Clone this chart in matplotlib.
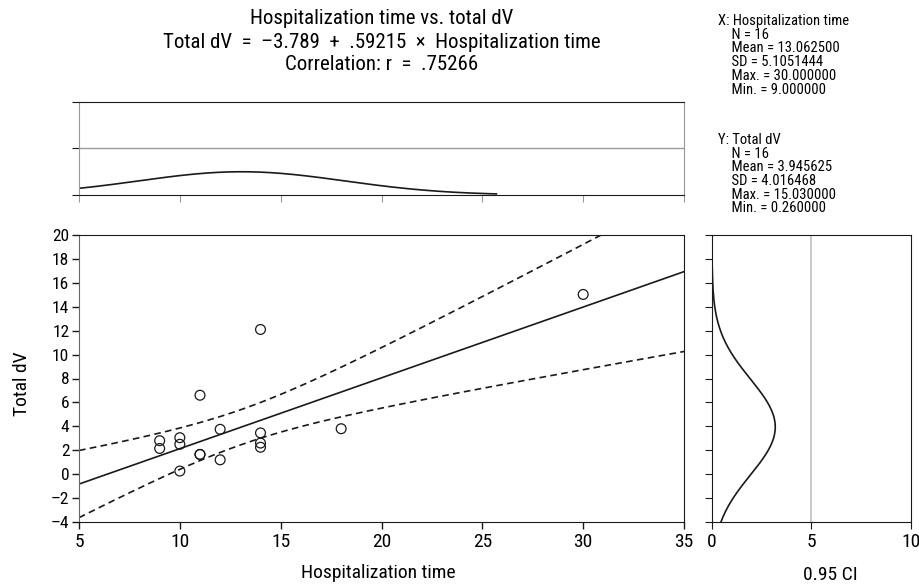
import numpy as np
import matplotlib.pyplot as plt

# 窄体无衬线字体 (按顺序找第一个已安装的)
plt.rcParams['font.family'] = ['Roboto Condensed', 'Archivo Narrow', 'PT Sans Narrow',
                               'Liberation Sans Narrow', 'Liberation Sans', 'DejaVu Sans']

# 散点数据 (Hospitalization time, Total dV)
hosp_time = [9, 9, 10, 10, 10, 11, 11, 11, 12, 12, 14, 14, 14, 14, 18, 30]
total_dv = [2.80, 2.15, 3.05, 2.50, 0.26, 6.60, 1.65, 1.65, 3.75, 1.20,
            12.10, 3.45, 2.60, 2.25, 3.80, 15.03]

# 回归与汇总统计 (图中给出的数值)
intercept = -3.789
slope = 0.59215
r_value = 0.75266
n_obs = 16
x_mean, x_sd = 13.0625, 5.1051444
y_mean, y_sd = 3.945625, 4.016468
t_crit = 2.145          # t(0.975, df=14)
density_scale = 32.0    # 边缘密度曲线的缩放
x_curve_end = 25.7
y_curve_end = 17.2

title_lines = ['Hospitalization time vs. total dV',
               'Total dV  =  \u20133.789  +  .59215  \u00d7  Hospitalization time',
               'Correlation: r  =  .75266']
x_stats = ['X: Hospitalization time', '    N = 16', '    Mean = 13.062500',
           '    SD = 5.1051444', '    Max. = 30.000000', '    Min. = 9.000000']
y_stats = ['Y: Total dV', '    N = 16', '    Mean = 3.945625',
           '    SD = 4.016468', '    Max. = 15.030000', '    Min. = 0.260000']

main_xticks = [5, 10, 15, 20, 25, 30, 35]
main_yticks = list(range(-4, 21, 2))
side_xticks = [0, 5, 10]

W, H = 920, 587
fig = plt.figure(figsize=(W / 100, H / 100), dpi=100)


def box(l, t, r, b):
    # 像素坐标 -> figure 比例
    return [l / W, 1 - b / H, (r - l) / W, (b - t) / H]


ax_main = fig.add_axes(box(79, 235, 684, 522))
ax_top = fig.add_axes(box(79, 102, 684, 195))
ax_side = fig.add_axes(box(712, 235, 911, 522))

dark = '#1a1a1a'
grey = '#999999'

# ---------------- main scatter ----------------
xs = np.linspace(5, 35, 300)
y_hat = intercept + slope * xs
s_resid = y_sd * np.sqrt(1 - r_value ** 2) * np.sqrt((n_obs - 1) / (n_obs - 2))
sxx = (n_obs - 1) * x_sd ** 2
half = t_crit * s_resid * np.sqrt(1 / n_obs + (xs - x_mean) ** 2 / sxx)

ax_main.plot(xs, y_hat, color=dark, lw=1.2)
ax_main.plot(xs, y_hat + half, color=dark, lw=1.2, ls=(0, (4, 2.6)))
ax_main.plot(xs, y_hat - half, color=dark, lw=1.2, ls=(0, (4, 2.6)))
ax_main.scatter(hosp_time, total_dv, s=50, facecolors='none',
                edgecolors=dark, linewidths=0.9, zorder=3)

ax_main.set_xlim(5, 35)
ax_main.set_ylim(-4, 20)
ax_main.set_xticks(main_xticks)
ax_main.set_yticks(main_yticks)
ax_main.set_yticklabels([str(v).replace('-', '\u2013') for v in main_yticks])
ax_main.tick_params(axis='x', labelsize=14, length=5, width=1, color=dark, pad=3)
ax_main.tick_params(axis='y', labelsize=12.5, length=5, width=1, color=dark, pad=2)
ax_main.set_xlabel('Hospitalization time', fontsize=14, va='center')
ax_main.xaxis.set_label_coords(0.494, (522 - 573) / 287)
ax_main.set_ylabel('Total dV', fontsize=14, va='center')
ax_main.yaxis.set_label_coords((22 - 79) / 605, (522 - 384) / 287)
for side in ['top', 'bottom', 'right']:
    ax_main.spines[side].set_color(dark)
ax_main.spines['left'].set_color('#666666')

# ---------------- top marginal ----------------
xd = np.linspace(5, x_curve_end, 200)
x_dens = density_scale / (x_sd * np.sqrt(2 * np.pi)) * np.exp(-0.5 * ((xd - x_mean) / x_sd) ** 2)
ax_top.plot(xd, x_dens, color=dark, lw=1.2)
ax_top.axhline(5, color=grey, lw=1)
ax_top.set_xlim(5, 35)
ax_top.set_ylim(0, 10)
ax_top.set_xticks(main_xticks)
ax_top.set_yticks([0, 5, 10])
ax_top.set_xticklabels([])
ax_top.set_yticklabels([])
ax_top.tick_params(axis='x', length=5, color=grey)
ax_top.tick_params(axis='y', length=5, color=dark)
for side in ['top', 'bottom']:
    ax_top.spines[side].set_color(dark)
for side in ['left', 'right']:
    ax_top.spines[side].set_color(grey)

# ---------------- right marginal ----------------
yd = np.linspace(-4, y_curve_end, 200)
y_dens = density_scale / (y_sd * np.sqrt(2 * np.pi)) * np.exp(-0.5 * ((yd - y_mean) / y_sd) ** 2)
ax_side.plot(y_dens, yd, color=dark, lw=1.2)
ax_side.axvline(5, color='#c0c0c0', lw=1.2)
ax_side.set_xlim(0, 10)
ax_side.set_ylim(-4, 20)
ax_side.set_xticks(side_xticks)
ax_side.set_yticks(main_yticks)
ax_side.set_yticklabels([])
ax_side.tick_params(axis='x', labelsize=14, length=5, color=dark, pad=3)
ax_side.tick_params(axis='y', length=5, color=dark)
ax_side.set_xlabel('0.95 CI', fontsize=14, va='center')
ax_side.xaxis.set_label_coords((830 - 712) / 199, (522 - 575) / 287)
for side in ax_side.spines:
    ax_side.spines[side].set_color(dark)

# ---------------- texts ----------------
for line, yp in zip(title_lines, [18, 42, 64]):
    fig.text(381.5 / W, 1 - yp / H, line, ha='center', va='center', fontsize=15)

for i, line in enumerate(x_stats):
    fig.text(718 / W, 1 - (21 + 13.7 * i) / H, line, ha='left', va='center', fontsize=10.5)
for i, line in enumerate(y_stats):
    fig.text(718 / W, 1 - (140 + 13.7 * i) / H, line, ha='left', va='center', fontsize=10.5)

fig.savefig('out.png', dpi=100)
